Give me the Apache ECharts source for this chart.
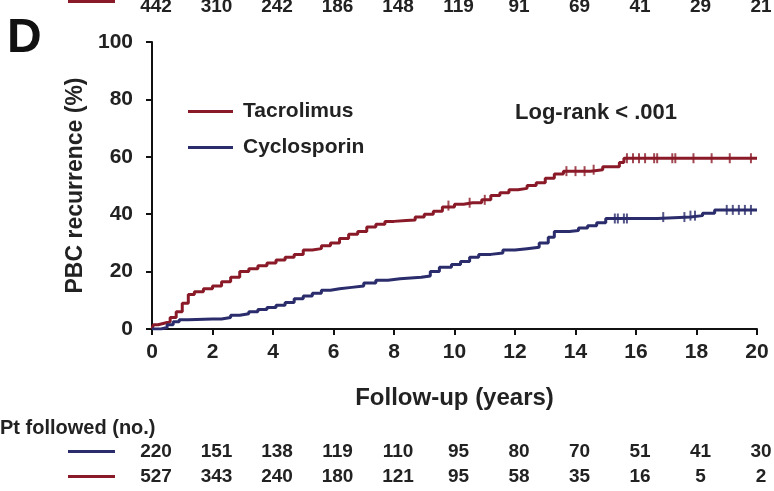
<!DOCTYPE html>
<html><head><meta charset="utf-8">
<script src="https://cdn.jsdelivr.net/npm/echarts@6/dist/echarts.min.js"></script>
<style>html,body{margin:0;padding:0;background:#fff}#c{width:774px;height:491px}</style>
</head><body><div id="c"></div>
<script>
// Kaplan-Meier style cumulative recurrence (%), [year, value]
const tacrolimus = [[0,0],[0.05,1.5],[0.2,2],[0.4,2.5],[0.6,4],[0.8,6],[1.0,9],[1.2,12],[1.4,13],[1.7,14],[2.0,15],[2.3,16.5],[2.6,18],[2.9,20],[3.2,21],[3.5,22],[3.8,23],[4.1,24],[4.4,25],[4.7,26],[5.0,27.5],[5.3,28],[5.6,29],[5.9,30],[6.2,31.5],[6.5,33],[6.8,34],[7.1,35.5],[7.4,36.5],[7.7,37.5],[8.0,37.8],[8.4,38],[8.7,39],[9.0,40],[9.3,41],[9.6,42.5],[10.0,43.5],[10.3,44],[10.6,44],[10.9,45],[11.2,46.5],[11.5,47.5],[11.8,48.5],[12.1,49],[12.4,50],[12.7,51],[13.0,52.5],[13.3,54],[13.6,55],[14.0,55],[14.5,55.5],[14.9,56.5],[15.3,56.5],[15.45,58],[15.6,59.5],[20,59.5]];
const cyclosporin = [[0,0],[0.3,0.5],[0.5,1.5],[0.7,2.5],[0.9,3.2],[1.2,3.5],[2.0,3.5],[2.3,4],[2.6,4.8],[2.9,5.3],[3.2,6],[3.5,6.8],[3.8,7.5],[4.1,8.3],[4.4,9.2],[4.7,10.5],[5.0,11.5],[5.3,12.5],[5.6,13.5],[5.9,14],[6.2,14.5],[6.6,15],[7.0,16],[7.4,17],[7.8,17.5],[8.2,18],[8.9,18.5],[9.2,20],[9.5,21.5],[9.9,22.5],[10.2,23.5],[10.5,25],[10.8,26],[11.2,26.5],[11.6,27.5],[12.0,28],[12.4,28.5],[12.8,30],[13.1,32],[13.3,34],[13.8,34.3],[14.1,35.2],[14.4,36],[14.7,37],[15.0,38.5],[16.7,39],[17.8,39.5],[18.2,40.3],[18.6,41.5],[20,41.5]];
// censored observations (tick marks)
const tacCensor = [[9.8,43],[10.5,44],[11.0,45],[13.7,55],[14.0,55],[14.3,55],[14.6,55.5],[15.7,59.5],[15.9,59.5],[16.1,59.5],[16.3,59.5],[16.6,59.5],[16.7,59.5],[17.2,59.5],[17.3,59.5],[17.9,59.5],[18.5,59.5],[19.1,59.5],[19.8,59.5]];
const cycCensor = [[15.3,38.5],[15.4,38.5],[15.6,38.5],[15.7,38.5],[16.9,39],[17.6,39],[17.8,39.5],[17.95,39.5],[19.0,41.5],[19.2,41.5],[19.4,41.5],[19.6,41.5],[19.8,41.5]];

const yearTicks = [0,2,4,6,8,10,12,14,16,18,20];
const atRiskTopRow = [442,310,242,186,148,119,91,69,41,29,21];
const atRiskCyc = [220,151,138,119,110,95,80,70,51,41,30];
const atRiskTac = [527,343,240,180,121,95,58,35,16,5,2];

const RED = '#8a1a28', BLUE = '#2a2c6c';
const FF = '"Liberation Sans", Arial, sans-serif';
const chart = echarts.init(document.getElementById('c'), null, {renderer:'canvas'});
const option = {
  animation:false,
  backgroundColor:'#fff',
  grid:{left:152, top:42, width:605, height:287},
  legend:{
    left:183, top:96, orient:'vertical', itemWidth:45, itemHeight:3, itemGap:15,
    icon:'rect',
    data:['Tacrolimus','Cyclosporin'],
    textStyle:{fontFamily:FF, fontWeight:'bold', fontSize:21, color:'#222', padding:[0,0,0,5]}
  },
  xAxis:{type:'value', min:0, max:20, interval:2,
    name:'Follow-up (years)', nameLocation:'middle', nameGap:57,
    nameTextStyle:{fontFamily:FF, fontWeight:'bold', fontSize:24, color:'#222'},
    axisLine:{lineStyle:{color:'#111', width:2}},
    axisTick:{length:6, lineStyle:{color:'#111', width:2}},
    axisLabel:{fontFamily:FF, fontWeight:'bold', fontSize:21, color:'#222', margin:13},
    splitLine:{show:false}},
  yAxis:{type:'value', min:0, max:100, interval:20,
    name:'PBC recurrence (%)', nameLocation:'middle', nameGap:62,
    nameTextStyle:{fontFamily:FF, fontWeight:'bold', fontSize:23, color:'#222'},
    axisLine:{show:true, lineStyle:{color:'#111', width:2}},
    axisTick:{show:true, length:6, lineStyle:{color:'#111', width:2}},
    axisLabel:{fontFamily:FF, fontWeight:'bold', fontSize:21, color:'#222', margin:19},
    splitLine:{show:false}},
  series:[
    {name:'Tacrolimus', type:'line', step:'end', data:tacrolimus, showSymbol:false, color:RED, lineStyle:{width:3, color:RED}},
    {name:'Cyclosporin', type:'line', step:'end', data:cyclosporin, showSymbol:false, color:BLUE, lineStyle:{width:3, color:BLUE}},
    {name:'tacC', type:'scatter', data:tacCensor, symbol:'rect', symbolSize:[2,10], itemStyle:{color:RED}},
    {name:'cycC', type:'scatter', data:cycCensor, symbol:'rect', symbolSize:[2,10], itemStyle:{color:BLUE}}
  ]
};
chart.setOption(option);

const g = [];
g.push({type:'text', left:7, top:15, style:{text:'D', font:'bold 48px '+FF, fill:'#111'}});
g.push({type:'text', left:515, top:102, style:{text:'Log-rank < .001', font:'bold 22px '+FF, fill:'#222'}});
g.push({type:'text', x:0, y:428, style:{text:'Pt followed (no.)', font:'bold 20px '+FF, fill:'#222', verticalAlign:'middle'}});
// row legend lines
g.push({type:'rect', shape:{x:68, y:0, width:47, height:3}, style:{fill:RED}});
g.push({type:'rect', shape:{x:68, y:450, width:47, height:3}, style:{fill:BLUE}});
g.push({type:'rect', shape:{x:68, y:475, width:47, height:3}, style:{fill:RED}});
function row(values, yc){
  values.forEach((v,i)=>{
    const px = chart.convertToPixel({xAxisIndex:0}, yearTicks[i]);
    g.push({type:'text', x:px+4, y:yc, style:{text:String(v), font:'bold 19px '+FF, fill:'#222', align:'center', verticalAlign:'middle'}});
  });
}
row(atRiskTopRow, 7);
row(atRiskCyc, 452);
row(atRiskTac, 477);
chart.setOption({graphic:g});
</script></body></html>
